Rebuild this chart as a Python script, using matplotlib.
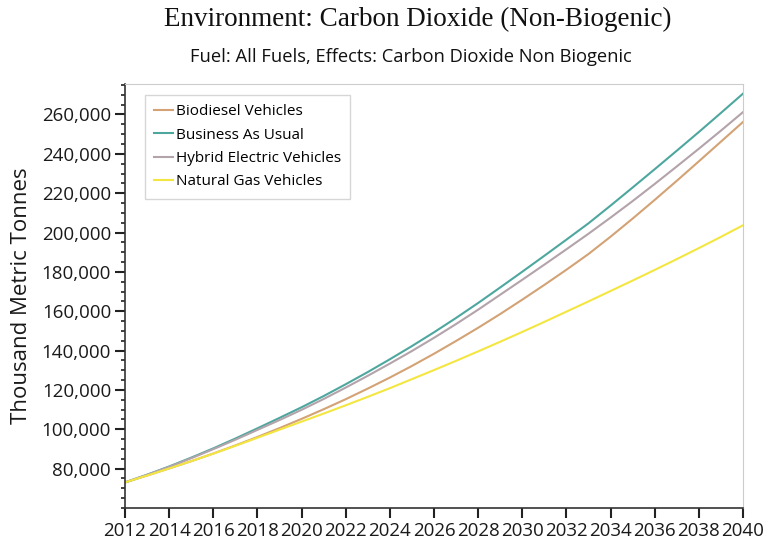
import matplotlib
matplotlib.use("Agg")
import matplotlib.pyplot as plt
from matplotlib.ticker import MultipleLocator, FuncFormatter

years = list(range(2012, 2041))

biodiesel = [73000, 76500, 80100, 83800, 87700, 91800, 96100, 100600, 105300, 110200,
             115300, 120700, 126300, 132200, 138400, 144900, 151600, 158600, 165900, 173400,
             181100, 189100, 197900, 207100, 216600, 226300, 236200, 246200, 256200]
business_as_usual = [73000, 76900, 81100, 85600, 90300, 95300, 100500, 105800, 111200, 116900,
                     122900, 129100, 135600, 142300, 149300, 156600, 164200, 172100, 180100, 188200,
                     196400, 204700, 213700, 222900, 232200, 241600, 251100, 260800, 270600]
hybrid = [73000, 76900, 80900, 85300, 89900, 94700, 99700, 104700, 109900, 115400,
          121200, 127200, 133400, 139800, 146500, 153500, 160800, 168400, 176000, 183700,
          191500, 199400, 207600, 216000, 224700, 233600, 242600, 251800, 261200]
natural_gas = [73000, 76500, 80100, 83800, 87600, 91600, 95700, 99800, 103900, 108000,
               112200, 116500, 120900, 125500, 130100, 134800, 139600, 144500, 149500, 154600,
               159800, 165000, 170300, 175600, 181000, 186500, 192100, 197800, 203700]

series_names = ["Biodiesel Vehicles", "Business As Usual", "Hybrid Electric Vehicles", "Natural Gas Vehicles"]
series_values = [biodiesel, business_as_usual, hybrid, natural_gas]
series_colors = ["#d3a275", "#4ea79f", "#b3a3ab", "#f4e641"]

title = "Environment: Carbon Dioxide (Non-Biogenic)"
subtitle = "Fuel: All Fuels, Effects: Carbon Dioxide Non Biogenic"
ylabel = "Thousand Metric Tonnes"

fig = plt.figure(figsize=(7.66, 5.43), dpi=100)
ax = fig.add_axes([125/766, 35/543, (743-125)/766, (508-84)/543])

for name, vals, col in zip(series_names, series_values, series_colors):
    ax.plot(years, vals, color=col, lw=1.5, label=name)

ax.set_xlim(2012, 2040)
ax.set_ylim(60000, 275500)
ax.xaxis.set_major_locator(MultipleLocator(2))
ax.yaxis.set_minor_locator(MultipleLocator(5000))
ax.yaxis.set_major_formatter(FuncFormatter(lambda v, p: f"{int(v):,}"))
ax.set_yticks([v for v in range(80000, 270000, 20000)])

ax.tick_params(axis="both", which="major", direction="out", length=7, width=1.5, color="#222222",
               labelsize=13.5, pad=3)
ax.tick_params(axis="y", which="minor", direction="out", length=3, width=1.2, color="#222222")
for lab in ax.get_xticklabels() + ax.get_yticklabels():
    lab.set_fontfamily("Open Sans")
    lab.set_color("#1a1a1a")

ax.spines["left"].set_color("#333333")
ax.spines["bottom"].set_color("#333333")
ax.spines["left"].set_linewidth(1.2)
ax.spines["bottom"].set_linewidth(1.2)
ax.spines["top"].set_color("#cccccc")
ax.spines["right"].set_color("#cccccc")

ax.set_ylabel(ylabel, fontfamily="Open Sans", fontsize=16, color="#1a1a1a", labelpad=7)

leg = ax.legend(loc="upper left", bbox_to_anchor=(20/618, 1 - 11/424), borderaxespad=0,
                frameon=True, fancybox=False, edgecolor="#cccccc", handlelength=1.25,
                handletextpad=0.15, labelspacing=0.55, borderpad=0.6,
                prop={"family": "Open Sans", "size": 11})
leg.get_frame().set_linewidth(1.0)

fig.text(0.545, 1 - 19/543, title, ha="center", va="center", fontfamily="Liberation Serif",
         fontsize=19.5, color="#111111")
fig.text(0.537, 1 - 57/543, subtitle, ha="center", va="center", fontfamily="Open Sans",
         fontsize=13.2, color="#111111")

fig.savefig("out.png", dpi=100)
